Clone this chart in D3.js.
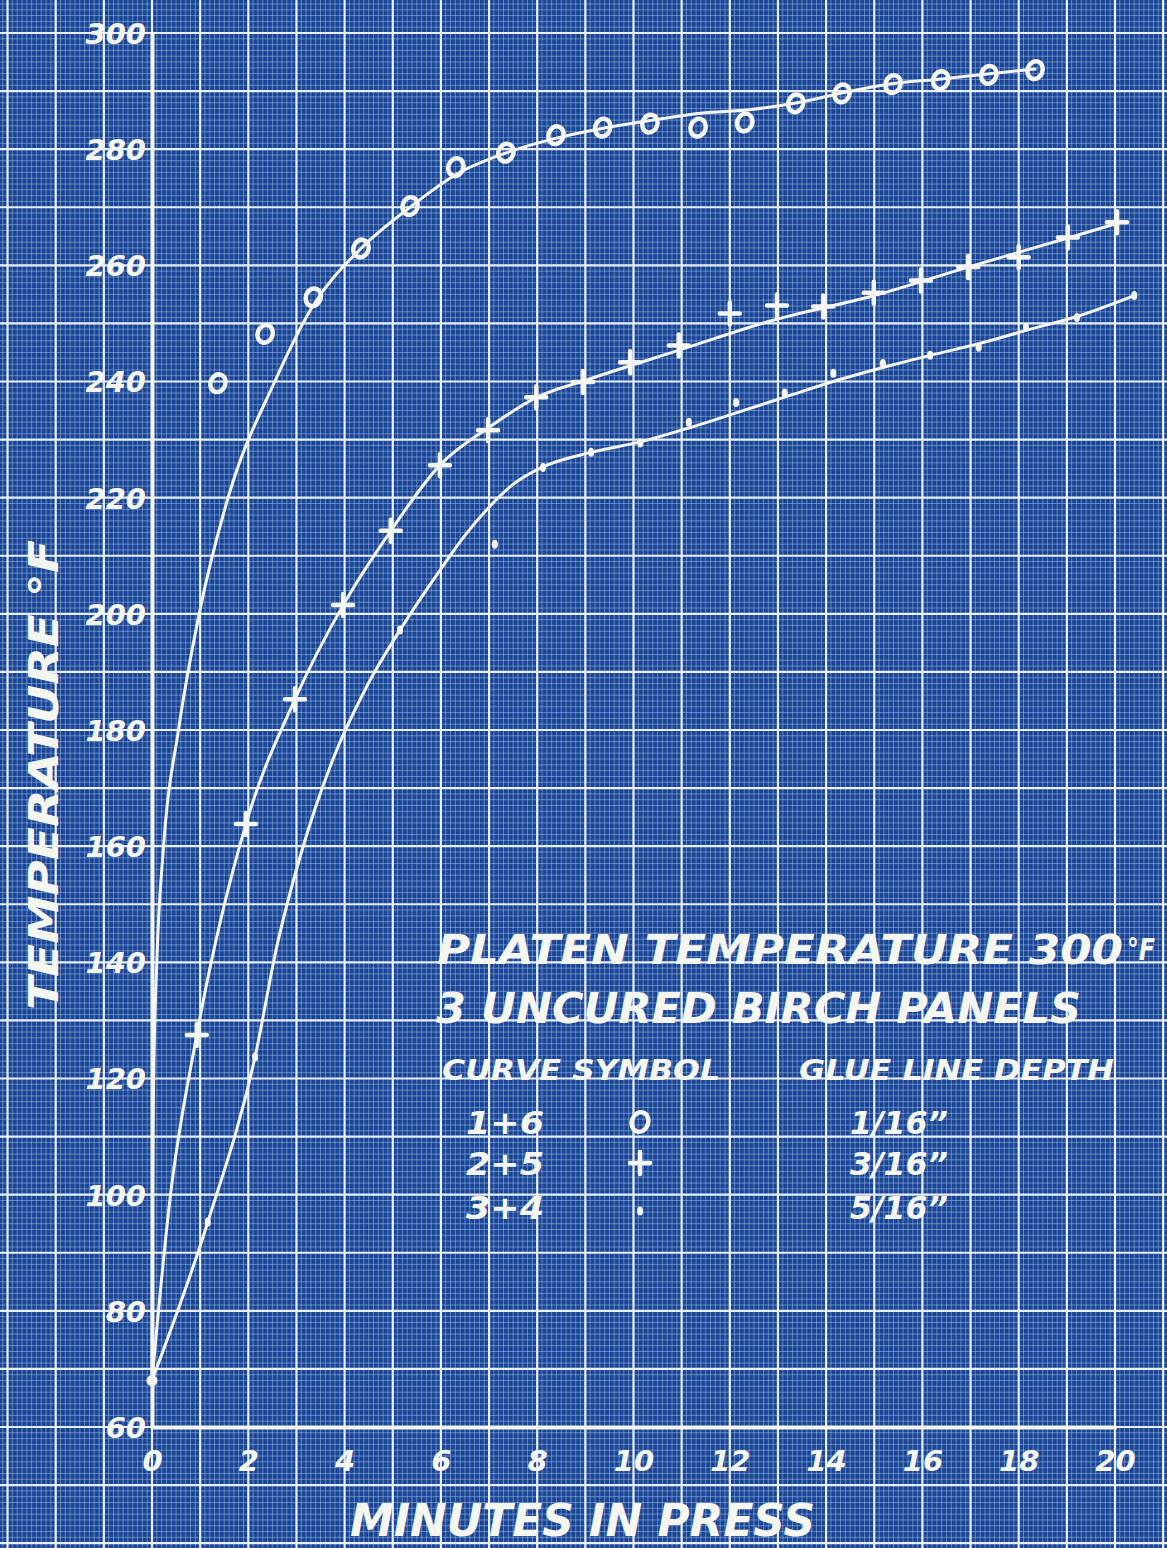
<!DOCTYPE html>
<html>
<head>
<meta charset="utf-8">
<script src="https://cdn.jsdelivr.net/npm/d3@7"></script>
<style>
  html, body { margin: 0; padding: 0; background: #1a4494; overflow: hidden; }
  svg text { font-family: "DejaVu Sans", sans-serif; font-style: oblique; font-weight: bold; fill: #f6f6f1; }
</style>
</head>
<body>
<svg id="chart" width="1167" height="1548"></svg>
<script>
// Axis ticks
const xTicks = [0, 2, 4, 6, 8, 10, 12, 14, 16, 18, 20];
const yTicks = [60, 80, 100, 120, 140, 160, 180, 200, 220, 240, 260, 280, 300];

// Common starting temperature of all panels
const startTime = [0];
const startTemp = [68];

// Curve 1+6, symbol o, glue line depth 1/16"
const circleTime = [1.37, 2.35, 3.35, 4.34, 5.36, 6.31, 7.35, 8.39, 9.36, 10.34, 11.34, 12.31, 13.37, 14.33, 15.39, 16.38, 17.38, 18.34];
const circleTemp = [239.7, 248.2, 254.5, 262.9, 270.2, 276.9, 279.4, 282.4, 283.7, 284.4, 283.7, 284.6, 287.9, 289.6, 291.2, 291.9, 292.8, 293.6];
const curve1Time = [0, 0.01, 0.035, 0.1, 0.24, 0.55, 0.98, 1.58, 2.55, 3.34, 4.34, 5.36, 6.35, 7.37, 8.4, 9.37, 10.4, 11.4, 12.4, 13.4, 14.4, 15.4, 16.4, 17.4, 18.34];
const curve1Temp = [68, 100, 120, 140, 160, 180, 200, 220, 240, 253, 262.9, 270, 275.8, 279.4, 281.9, 283.6, 285, 286.2, 286.8, 288, 289.8, 291.3, 292.1, 293, 293.8];

// Curve 2+5, symbol +, glue line depth 3/16"
const plusTime = [0.93, 1.95, 2.97, 3.97, 4.96, 5.98, 6.98, 7.98, 8.95, 9.93, 10.94, 12.0, 12.98, 13.94, 14.99, 15.97, 16.95, 18.0, 19.02, 20.04];
const plusTemp = [127.5, 163.8, 185.3, 201.5, 214.3, 225.6, 231.6, 237.3, 239.9, 243.3, 246.2, 251.7, 253.1, 252.9, 255.3, 257.4, 259.7, 261.4, 264.8, 267.4];
const curve2Time = [0, 0.37, 0.93, 1.95, 2.97, 3.97, 4.96, 5.98, 6.98, 8.0, 9.0, 10.95, 12.88, 15.0, 16.95, 19.02, 20.12];
const curve2Temp = [68, 99, 127.5, 163.8, 185.3, 201.5, 214.3, 225.6, 232, 237.3, 240.2, 245.4, 250.5, 254.8, 259.7, 264.7, 267.4];

// Curve 3+4, symbol ·, glue line depth 5/16"
const dotTime = [1.16, 2.14, 5.15, 7.12, 8.12, 9.12, 10.14, 11.15, 12.13, 13.14, 14.15, 15.18, 16.16, 17.17, 18.15, 19.21, 20.4];
const dotTemp = [95.3, 123.7, 197.2, 212, 225.2, 227.8, 229.4, 233, 236.4, 238, 241.4, 243.1, 244.5, 245.9, 249.3, 251, 254.8];
const curve3Time = [0, 1.16, 2.14, 2.6, 3.07, 3.76, 4.46, 5.15, 5.98, 6.5, 6.96, 7.5, 8.12, 9.12, 10.14, 11.15, 12.13, 13.14, 14.15, 15.18, 16.16, 17.17, 18.15, 19.21, 20.4];
const curve3Temp = [68, 95.3, 123.7, 143, 158, 175, 187.5, 197.2, 207.5, 213.5, 218, 222.3, 225.3, 227.8, 229.6, 232, 234.6, 237.3, 240, 242.4, 244.5, 246.5, 248.8, 251.2, 254.8];

// Legend text
const titleLines = ["PLATEN  TEMPERATURE  300", "3  UNCURED  BIRCH  PANELS"];
const legendHeader = ["CURVE SYMBOL", "GLUE LINE DEPTH"];
const legendCurves = ["1+6", "2+5", "3+4"];
const legendDepths = ["1/16\u201D", "3/16\u201D", "5/16\u201D"];
const legendSymbols = ["circle", "plus", "dot"];

const W = 1167, H = 1548;
const svg = d3.select("#chart");

const x = d3.scaleLinear().domain([0, 20]).range([152, 1115]);
const y = d3.scaleLinear().domain([60, 300]).range([1427, 33]);

const ink = "#f6f6f1";

// Graph paper: fine rulings every 0.1 min / 1 °F, bold rulings every 1 min / 10 °F
const grid = svg.append("g");
grid.append("rect").attr("width", W).attr("height", H).attr("fill", "#1a4494");

const xMin = x.invert(0), xMax = x.invert(W);
const yMin = y.invert(H), yMax = y.invert(0);
const fineX = d3.range(Math.ceil(xMin * 10), Math.floor(xMax * 10) + 1).filter(d => d % 10 !== 0).map(d => d / 10);
const fineY = d3.range(Math.ceil(yMin), Math.floor(yMax) + 1).filter(d => d % 10 !== 0);

grid.append("g").selectAll("line").data(fineX).join("line")
  .attr("x1", d => x(d)).attr("x2", d => x(d)).attr("y1", 0).attr("y2", H)
  .attr("stroke", "#a6c8f0").attr("stroke-width", 1).attr("stroke-opacity", 0.5);
grid.append("g").selectAll("line").data(fineY).join("line")
  .attr("y1", d => y(d)).attr("y2", d => y(d)).attr("x1", 0).attr("x2", W)
  .attr("stroke", "#a6c8f0").attr("stroke-width", 1).attr("stroke-opacity", 0.5);

const majorX = d3.range(Math.ceil(xMin), Math.floor(xMax) + 1);
const majorY = d3.range(Math.ceil(yMin / 10) * 10, yMax + 1, 10);
grid.append("g").selectAll("line").data(majorX).join("line")
  .attr("x1", d => x(d)).attr("x2", d => x(d)).attr("y1", 0).attr("y2", H)
  .attr("stroke", "#e9f0f9").attr("stroke-width", 2.2);
grid.append("g").selectAll("line").data(majorY).join("line")
  .attr("y1", d => y(d)).attr("y2", d => y(d)).attr("x1", 0).attr("x2", W)
  .attr("stroke", "#e9f0f9").attr("stroke-width", 2.2);

// Axes drawn with d3 axis generators, then restyled as inked lines
const xAxis = svg.append("g").attr("transform", `translate(0,${y(60)})`)
  .call(d3.axisBottom(x).tickValues(xTicks).tickSize(0).tickPadding(28));
const yAxis = svg.append("g").attr("transform", `translate(${x(0)},0)`)
  .call(d3.axisLeft(y).tickValues(yTicks).tickSize(0).tickPadding(6));
[xAxis, yAxis].forEach(g => {
  g.select(".domain").attr("stroke", ink).attr("stroke-width", 4).attr("stroke-linecap", "round");
  g.selectAll("text").attr("fill", ink).style("font-size", "29px")
    .style("font-family", "'DejaVu Sans', sans-serif").style("font-style", "oblique").style("font-weight", "bold");
});
xAxis.selectAll("text").attr("dy", "0.55em");
yAxis.selectAll("text").attr("dy", "0.36em");

// Fitted curves
const line = d3.line().x(d => x(d[0])).y(d => y(d[1])).curve(d3.curveMonotoneX);
const curves = [
  d3.zip(curve1Time, curve1Temp),
  d3.zip(curve2Time, curve2Temp),
  d3.zip(curve3Time, curve3Temp)
];
svg.append("g").selectAll("path").data(curves).join("path")
  .attr("d", line).attr("fill", "none").attr("stroke", ink).attr("stroke-width", 3)
  .attr("stroke-linecap", "round");

// Symbols
function drawCircle(g, cx, cy, k = 1) {
  g.append("ellipse").attr("cx", cx).attr("cy", cy).attr("rx", 7.5 * k).attr("ry", 9 * k)
    .attr("transform", `rotate(20,${cx},${cy})`)
    .attr("fill", "none").attr("stroke", ink).attr("stroke-width", 4.5);
}
function drawPlus(g, cx, cy) {
  g.append("path").attr("d", `M${cx - 10},${cy}H${cx + 10}M${cx},${cy - 11}V${cy + 11}`)
    .attr("stroke", ink).attr("stroke-width", 4.5).attr("stroke-linecap", "round");
}
function drawDot(g, cx, cy) {
  g.append("ellipse").attr("cx", cx).attr("cy", cy).attr("rx", 3).attr("ry", 4.5).attr("fill", ink);
}

const marks = svg.append("g");
circleTime.forEach((t, i) => drawCircle(marks, x(t), y(circleTemp[i])));
plusTime.forEach((t, i) => drawPlus(marks, x(t), y(plusTemp[i])));
dotTime.forEach((t, i) => drawDot(marks, x(t), y(dotTemp[i])));
startTime.forEach((t, i) => marks.append("circle").attr("cx", x(t)).attr("cy", y(startTemp[i])).attr("r", 5.5).attr("fill", ink));

// Axis titles
svg.append("text").attr("x", 350).attr("y", 1536).attr("textLength", 465).attr("lengthAdjust", "spacingAndGlyphs")
  .style("font-size", "44px").text("MINUTES   IN   PRESS");
svg.append("text").attr("transform", "translate(58,1010) rotate(-90)")
  .attr("textLength", 470).attr("lengthAdjust", "spacingAndGlyphs")
  .style("font-size", "40px").text("TEMPERATURE \u00B0F");

// Legend block
const leg = svg.append("g");
leg.append("text").attr("x", 437).attr("y", 964).attr("textLength", 686).attr("lengthAdjust", "spacingAndGlyphs")
  .style("font-size", "41px").text(titleLines[0]);
leg.append("text").attr("x", 1127).attr("y", 960).attr("textLength", 28).attr("lengthAdjust", "spacingAndGlyphs")
  .style("font-size", "30px").text("\u00B0F");
leg.append("text").attr("x", 436).attr("y", 1023).attr("textLength", 645).attr("lengthAdjust", "spacingAndGlyphs")
  .style("font-size", "42px").text(titleLines[1]);
leg.append("text").attr("x", 442).attr("y", 1080).attr("textLength", 278).attr("lengthAdjust", "spacingAndGlyphs")
  .style("font-size", "29px").text(legendHeader[0]);
leg.append("text").attr("x", 799).attr("y", 1080).attr("textLength", 315).attr("lengthAdjust", "spacingAndGlyphs")
  .style("font-size", "29px").text(legendHeader[1]);

const rowY = [1122, 1163, 1207];
legendCurves.forEach((c, i) => {
  leg.append("text").attr("x", 466).attr("y", rowY[i] + 12).attr("textLength", 78).attr("lengthAdjust", "spacingAndGlyphs")
    .style("font-size", "32px").text(c);
  leg.append("text").attr("x", 850).attr("y", rowY[i] + 12).attr("textLength", 98).attr("lengthAdjust", "spacingAndGlyphs")
    .style("font-size", "32px").text(legendDepths[i]);
  const s = legendSymbols[i];
  if (s === "circle") drawCircle(leg, 640, rowY[i], 1.1);
  else if (s === "plus") drawPlus(leg, 640, rowY[i]);
  else drawDot(leg, 640, rowY[i] + 4);
});
</script>
</body>
</html>
